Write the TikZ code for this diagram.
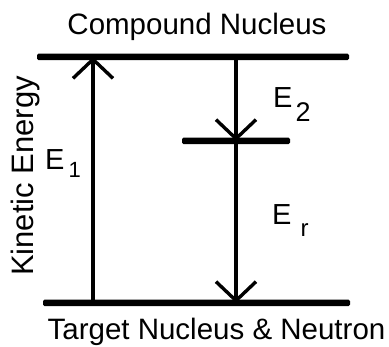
\documentclass[tikz,border=0pt]{standalone}
\usepackage{fontspec}
\setmainfont{Liberation Sans}
\usepackage{tikz}
\usetikzlibrary{arrows.meta,positioning,calc}

\begin{document}
\begin{tikzpicture}[x=1pt, y=-1pt,
    level/.style={rectangle, fill=black, inner sep=0pt, minimum height=6.5pt, rounded corners=1.5pt},
    label/.style={inner sep=0pt, font=\fontsize{29.5}{30}\selectfont},
    elabel/.style={inner sep=0pt, anchor=base west, font=\fontsize{29}{30}\selectfont},
    arrow/.style={line width=3.6pt, -{Straight Barb[length=19pt, width=40pt, line width=3.4pt]}}]

\useasboundingbox (0,0) rectangle (389,347);

% Energy levels
\node[level, minimum width=312pt] (compound) at (193, 57) {};
\node[level, minimum width=307pt] (target) at (196.5, 303) {};
\node[level, minimum width=108pt] (middle) at (236, 141) {};

% Level names
\node[label, anchor=base] (compound_name) at (197, 35) {Compound Nucleus};
\node[label, anchor=base] (target_name) at (216.5, 340) {Target Nucleus \& Neutron};
\node[label, anchor=base, rotate=90, font=\fontsize{31}{32}\selectfont] (axis_name) at (33, 176) {Kinetic Energy};

% Transitions
\coordinate (e1_foot) at (93, 303);
\draw[arrow] (e1_foot) -- (e1_foot |- compound.center);
\draw[arrow] (compound.center -| middle.center) -- (middle.center);
\draw[arrow] (middle.center) -- (target.center -| middle.center);

% Energy labels
\node[elabel] (e1) at (45, 170) {E\kern4pt\raisebox{-8pt}{\fontsize{22}{22}\selectfont 1}};
\node[elabel] (e2) at (273, 108) {E\kern3pt\raisebox{-14pt}{\fontsize{27}{27}\selectfont 2}};
\node[elabel] (er) at (272, 225) {E\kern9pt\raisebox{-12pt}{\fontsize{24}{24}\selectfont r}};

\end{tikzpicture}
\end{document}
